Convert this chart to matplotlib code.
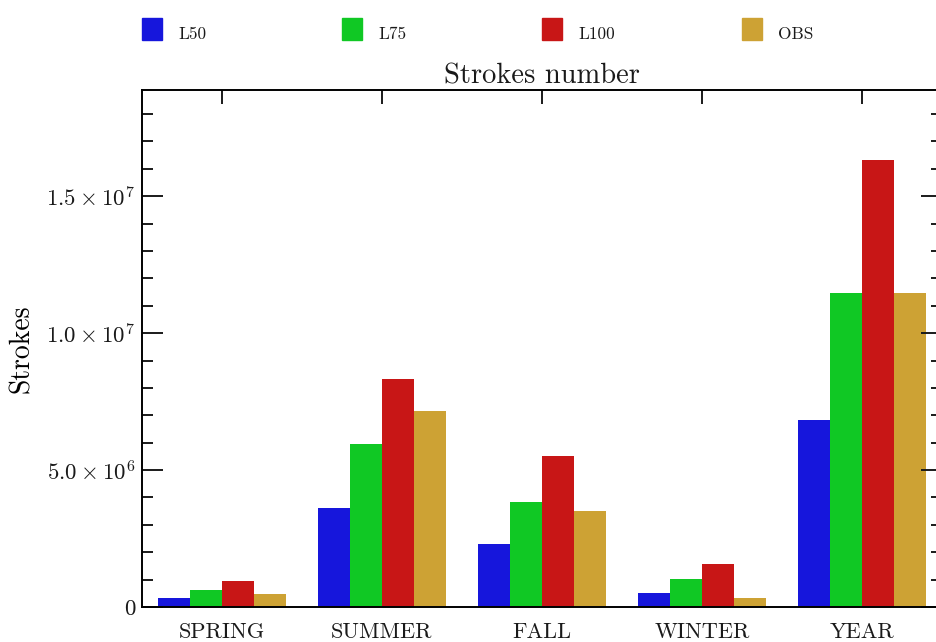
import numpy as np
import matplotlib
matplotlib.use("Agg")
import matplotlib.pyplot as plt
from matplotlib.ticker import MultipleLocator

plt.rcParams['font.family'] = ['cmr10', 'DejaVu Serif']
plt.rcParams['mathtext.fontset'] = 'cm'
plt.rcParams['axes.unicode_minus'] = False
plt.rcParams['text.color'] = '#1a1a1a'
plt.rcParams['xtick.color'] = '#1a1a1a'
plt.rcParams['ytick.color'] = '#1a1a1a'

seasons = ['SPRING', 'SUMMER', 'FALL', 'WINTER', 'YEAR']
runs = ['L50', 'L75', 'L100', 'OBS']
colors = ['#1616dc', '#10c824', '#c81616', '#cda234']

l50 = [0.34e6, 3.63e6, 2.29e6, 0.51e6, 6.82e6]
l75 = [0.62e6, 5.96e6, 3.85e6, 1.01e6, 11.47e6]
l100 = [0.94e6, 8.34e6, 5.50e6, 1.57e6, 16.34e6]
obs = [0.48e6, 7.15e6, 3.52e6, 0.33e6, 11.47e6]

yticks = [0, 5e6, 1e7, 1.5e7]
ytick_labels = ['0', r'$5.0\times10^{6}$', r'$1.0\times10^{7}$', r'$1.5\times10^{7}$']

fig = plt.figure(figsize=(9.37, 6.42), dpi=100)
ax = fig.add_axes([142 / 937, 1 - 607 / 642, 800 / 937, 517 / 642])

x = np.arange(len(seasons))
width = 0.2
for i, (vals, c) in enumerate(zip([l50, l75, l100, obs], colors)):
    ax.bar(x + (i - 1.5) * width, vals, width, color=c, edgecolor='none')

ax.set_xlim(-0.5, 4.5)
ax.set_ylim(0, 1.888e7)

ax.set_xticks(x)
ax.set_xticklabels(seasons, fontsize=16)
ax.set_yticks(yticks)
ax.set_yticklabels(ytick_labels, fontsize=16.5)
ax.yaxis.set_minor_locator(MultipleLocator(1e6))

ax.tick_params(axis='y', which='major', direction='in', length=15, width=1.4,
               right=True, pad=5)
ax.tick_params(axis='y', which='minor', direction='in', length=8, width=1.4,
               right=True)
ax.tick_params(axis='x', which='major', direction='in', length=10, width=1.4,
               top=True, bottom=False, pad=11)
for s in ax.spines.values():
    s.set_linewidth(1.4)

ax.set_ylabel('Strokes', fontsize=20, labelpad=8)
ax.set_title('Strokes number', fontsize=20.5, pad=5)

# legend row above the title
for i, (name, c) in enumerate(zip(runs, colors)):
    x0 = (142 + 200 * i) / 937
    fig.patches.append(plt.Rectangle((x0, 1 - 40 / 642), 20 / 937, 22 / 642,
                                     transform=fig.transFigure, color=c))
    fig.text(x0 + 36 / 937, 1 - 34 / 642, name, fontsize=12.5, va='center')

fig.savefig('out.png', dpi=100)
